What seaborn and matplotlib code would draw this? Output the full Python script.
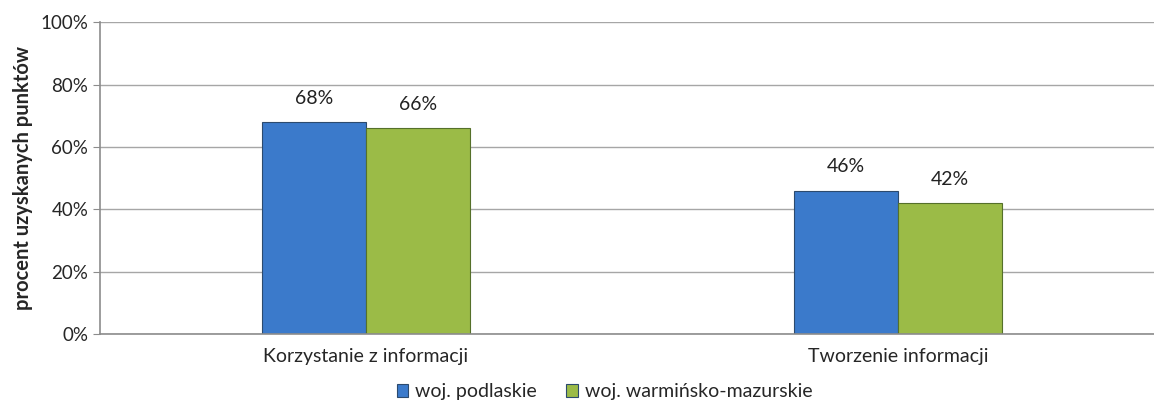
import seaborn as sns
import pandas as pd
import matplotlib.pyplot as plt
from matplotlib.ticker import PercentFormatter

categories = ['Korzystanie z informacji', 'Tworzenie informacji']
regions = ['woj. podlaskie', 'woj. warmińsko-mazurskie']
podlaskie = [68, 46]
warminsko = [66, 42]
y_ticks = [0, 20, 40, 60, 80, 100]

sns.set_style('white')
plt.rcParams['font.family'] = ['Lato', 'DejaVu Sans']

df = pd.DataFrame({
    'kategoria': categories * 2,
    'region': [regions[0]] * 2 + [regions[1]] * 2,
    'wynik': podlaskie + warminsko,
})

fig = plt.figure(figsize=(11.54, 4.03), dpi=100)
ax = fig.add_axes([0.0867, 0.171, 0.922, 0.774])

colors = ['#3b7acb', '#9bbb47']
sns.barplot(data=df, x='kategoria', y='wynik', hue='region', palette=colors,
            width=0.39, ax=ax, edgecolor='#2c4a6e', linewidth=0.8, saturation=1)

# darker edges for the green series
for bar in ax.containers[1]:
    bar.set_edgecolor('#55702a')

for cont in ax.containers:
    ax.bar_label(cont, labels=[f'{v:.0f}%' for v in cont.datavalues],
                 padding=11, fontsize=14, color='#222222')

ax.set_ylim(0, 100)
ax.set_xlim(-0.5, 1.5)
ax.set_yticks(y_ticks)
ax.yaxis.set_major_formatter(PercentFormatter(100, decimals=0))
ax.yaxis.grid(True, color='#a6a6a6', linewidth=1)
ax.set_axisbelow(True)

ax.set_xticks([0, 1])
ax.set_xticklabels(categories)
ax.set_xticks([-0.5, 0.5, 1.5], minor=True)
ax.tick_params(axis='x', which='major', length=0, labelsize=14, pad=10)
ax.tick_params(axis='x', which='minor', length=6, color='#8c8c8c', direction='out')
ax.tick_params(axis='y', length=5, color='#8c8c8c', labelsize=13.5, direction='out', left=True)

for side in ['top', 'right']:
    ax.spines[side].set_visible(False)
for side in ['left', 'bottom']:
    ax.spines[side].set_color('#8c8c8c')
    ax.spines[side].set_linewidth(1.2)

ax.set_xlabel('')
ax.set_ylabel('procent uzyskanych punktów', fontsize=14.5, fontweight='bold', labelpad=5)

ax.legend(loc='upper center', bbox_to_anchor=(0.474, -0.102), ncol=2, frameon=False,
          fontsize=14, handlelength=0.6, handleheight=0.6, handletextpad=0.35,
          columnspacing=1.5)

fig.savefig('out.png', dpi=100)
